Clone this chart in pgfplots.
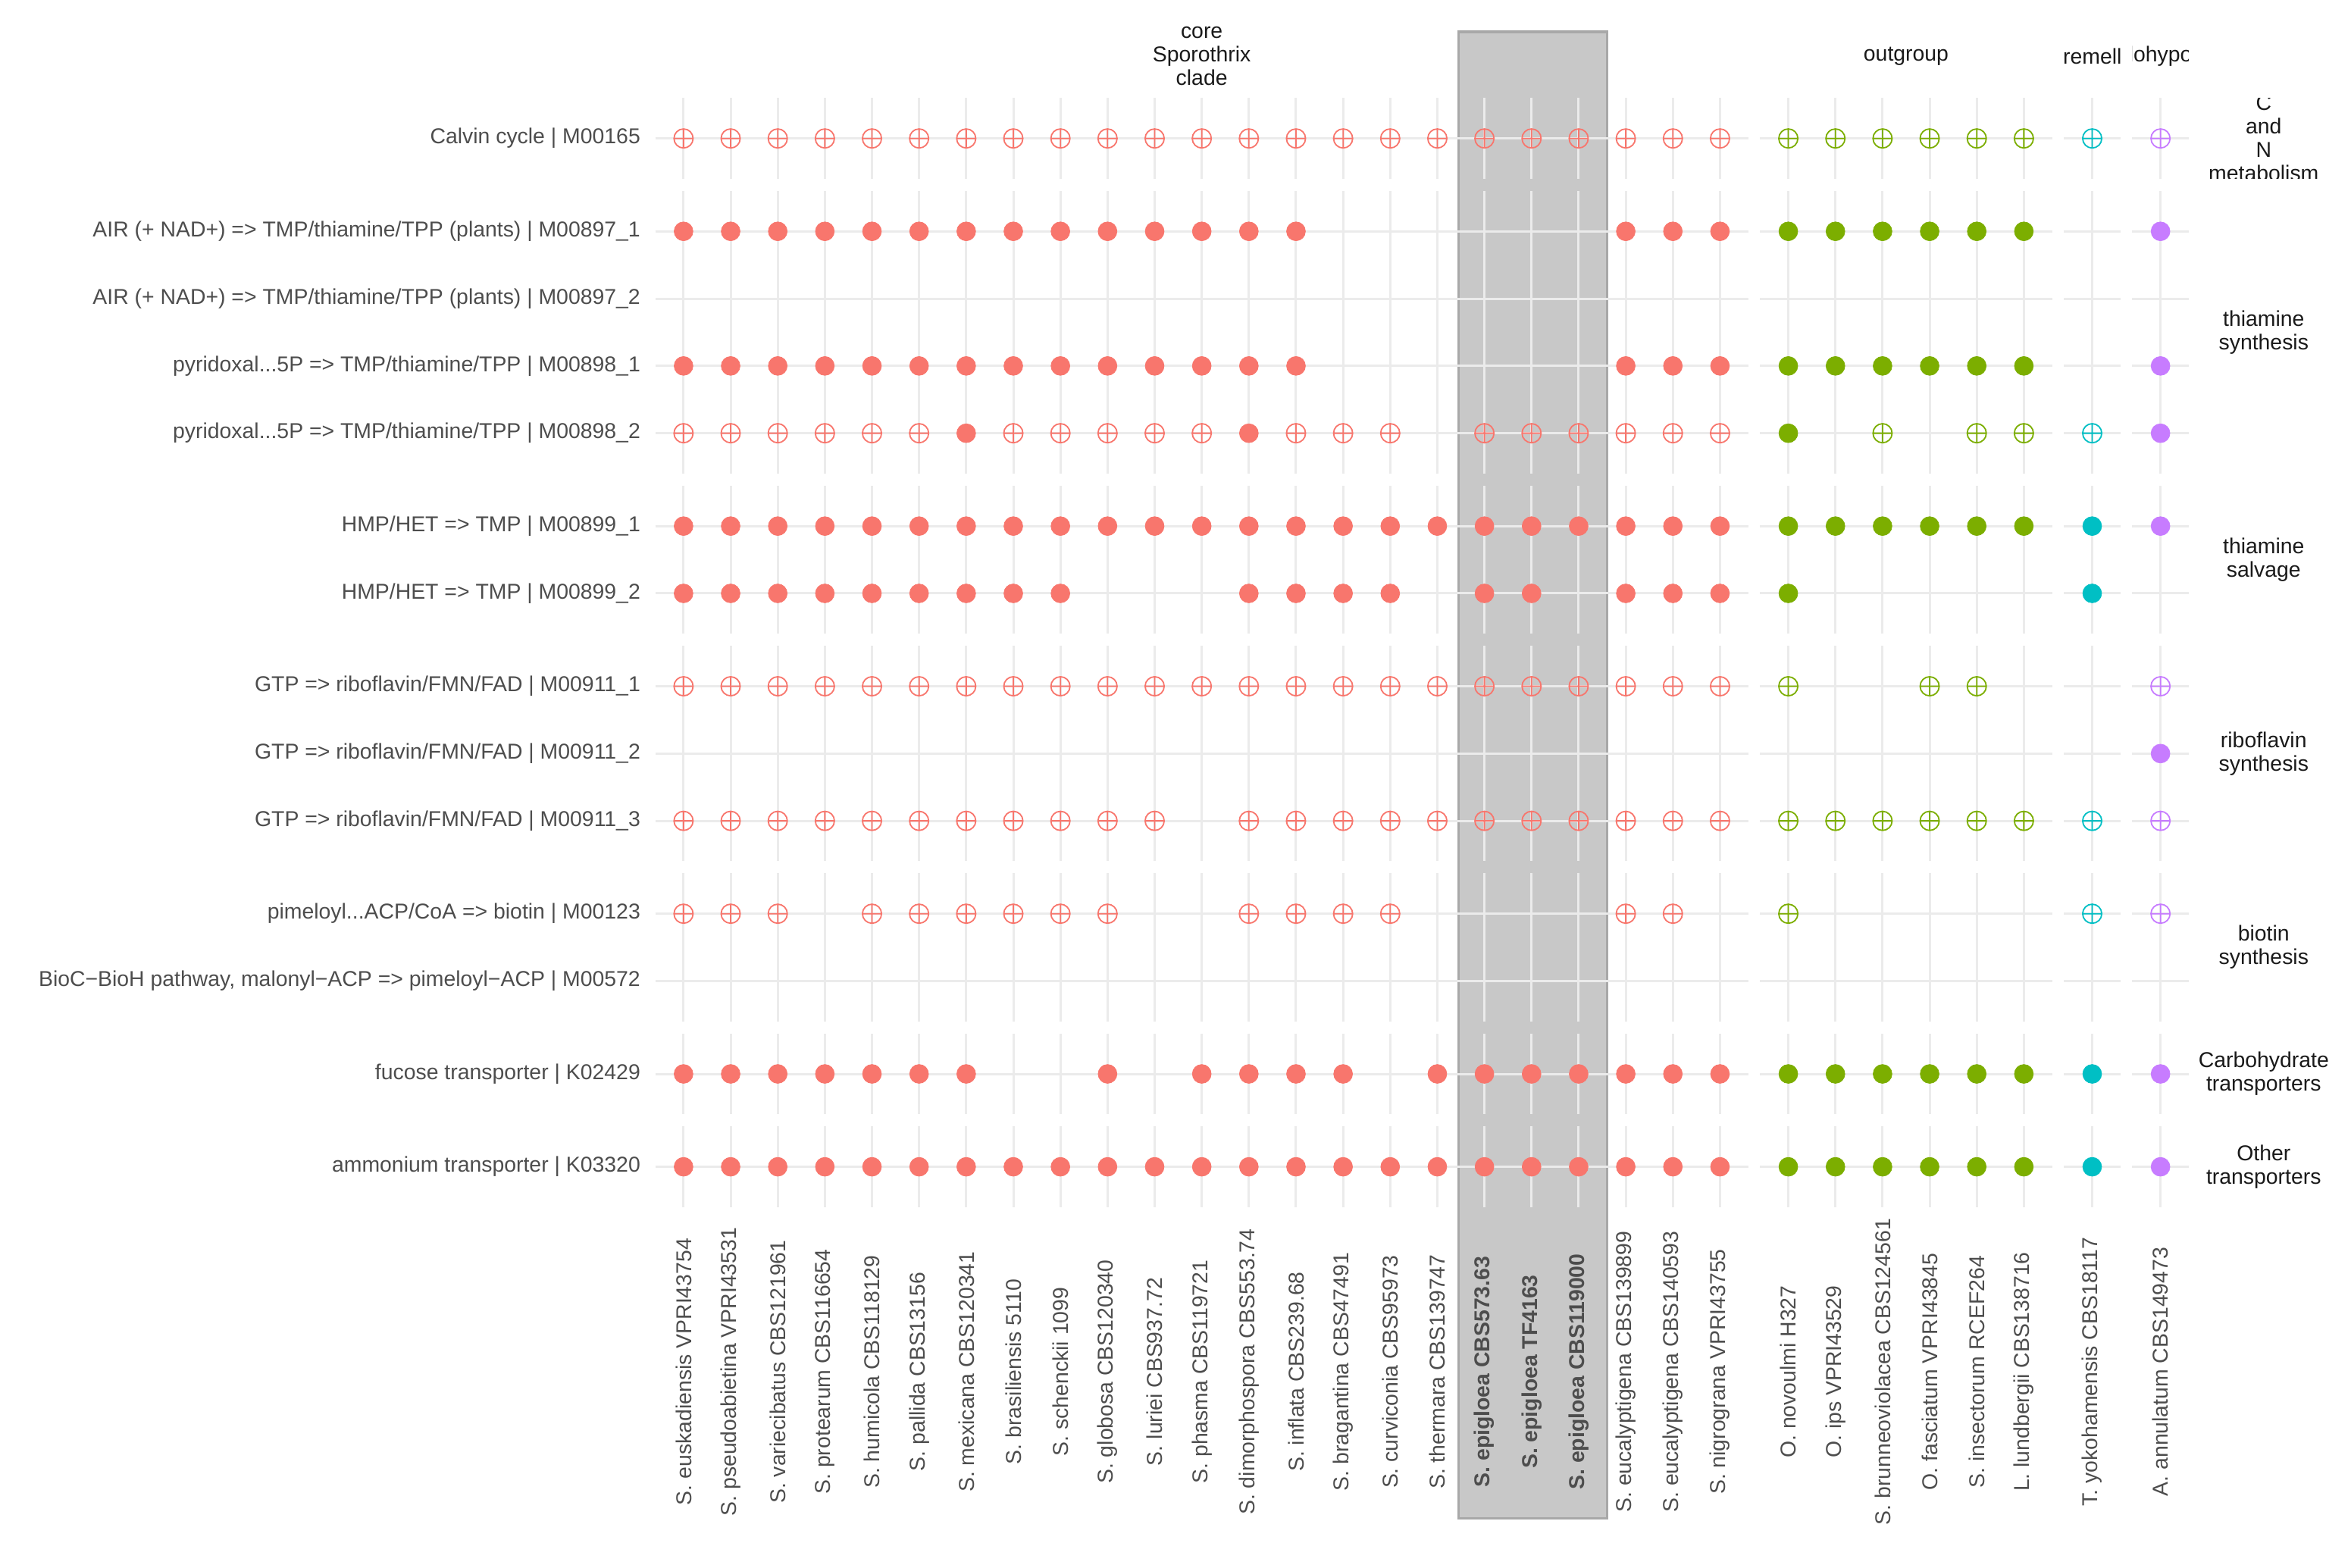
\documentclass[border=0pt]{standalone}
\usepackage{fontspec}
\setmainfont{Liberation Sans}
\usepackage{pgfplots}
\pgfplotsset{compat=1.18}
\usetikzlibrary{calc}
\definecolor{cS}{HTML}{F8766D}
\definecolor{cO}{HTML}{7CAE00}
\definecolor{cT}{HTML}{00BFC4}
\definecolor{cA}{HTML}{C77CFF}
\definecolor{gridc}{HTML}{EBEBEB}
\definecolor{rectfill}{HTML}{C8C8C8}
\definecolor{rectline}{HTML}{A8A8A8}
\definecolor{ticktext}{HTML}{4D4D4D}
\definecolor{striptext}{HTML}{1A1A1A}
\newcommand\ddd{...}

\newcommand\panel[6]{%
  \foreach \c in {#3}{\draw[gridc, line width=0.75pt] (axis cs:\c,#4) -- (axis cs:\c,#5);}%
  \foreach \r in {#6}{\draw[gridc, line width=0.75pt] (axis cs:#1,\r) -- (axis cs:#2,\r);}%
}
\newcommand\rowpanel[3]{%
  \panel{0.4}{23.6}{1,2,...,23}{#1}{#2}{#3}%
  \panel{23.85}{30.05}{24.45,25.45,26.45,27.45,28.45,29.45}{#1}{#2}{#3}%
  \panel{30.3}{31.5}{30.9}{#1}{#2}{#3}%
  \panel{31.75}{32.95}{32.35}{#1}{#2}{#3}%
}
\tikzset{strip/.style={font=\fontsize{7.1}{7.75}\selectfont, align=center, text=striptext, inner sep=0pt}}
\pgfplotsset{
  full/.style={only marks, mark=*, mark size=3.1pt, color=#1, mark options={draw=#1, fill=#1, line width=0.2pt}},
  part/.style={only marks, mark=oplus, mark size=3.15pt, color=#1, mark options={draw=#1, line width=0.45pt}},
}

\begin{document}
\begin{tikzpicture}
\begin{axis}[
  scale only axis, width=505.83pt, height=365.86pt,
  xmin=0.4, xmax=32.95, ymin=0.4, ymax=16.88, y dir=reverse,
  clip=false, axis on top,
  axis line style={draw=none}, major tick length=0pt,
  tick label style={font=\fontsize{7.1}{8}\selectfont, text=ticktext},
  xtick={1,2,3,4,5,6,7,8,9,10,11,12,13,14,15,16,17,18,19,20,21,22,23,24.45,25.45,26.45,27.45,28.45,29.45,30.9,32.35},
  xticklabels={S. euskadiensis VPRI43754, S. pseudoabietina VPRI43531, S. variecibatus CBS121961, S. protearum CBS116654, S. humicola CBS118129, S. pallida CBS13156, S. mexicana CBS120341, S. brasiliensis 5110, S. schenckii 1099, S. globosa CBS120340, S. luriei CBS937.72, S. phasma CBS119721, S. dimorphospora CBS553.74, S. inflata CBS239.68, S. bragantina CBS47491, S. curviconia CBS95973, S. thermara CBS139747, {\bfseries S. epigloea CBS573.63}, {\bfseries S. epigloea TF4163}, {\bfseries S. epigloea CBS119000}, S. eucalyptigena CBS139899, S. eucalyptigena CBS140593, S. nigrograna VPRI43755, O. novoulmi H327, O. ips VPRI43529, S. brunneoviolacea CBS124561, O. fasciatum VPRI43845, S. insectorum RCEF264, L. lundbergii CBS138716, T. yokohamensis CBS18117, A. annulatum CBS149473},
  xticklabel style={yshift=-54.3pt, rotate=90, anchor=center},
  ytick={1,2.38,3.38,4.38,5.38,6.76,7.76,9.14,10.14,11.14,12.52,13.52,14.9,16.28},
  yticklabels={Calvin cycle | M00165, {AIR (+ NAD+) => TMP/thiamine/TPP (plants) | M00897\_1}, {AIR (+ NAD+) => TMP/thiamine/TPP (plants) | M00897\_2}, {pyridoxal\ddd 5P => TMP/thiamine/TPP | M00898\_1}, {pyridoxal\ddd 5P => TMP/thiamine/TPP | M00898\_2}, HMP/HET => TMP | M00899\_1, HMP/HET => TMP | M00899\_2, GTP => riboflavin/FMN/FAD | M00911\_1, GTP => riboflavin/FMN/FAD | M00911\_2, GTP => riboflavin/FMN/FAD | M00911\_3, {pimeloyl\ddd ACP/CoA => biotin | M00123}, {BioC−BioH pathway, malonyl−ACP => pimeloyl−ACP | M00572}, fucose transporter | K02429, ammonium transporter | K03320},
  yticklabel style={anchor=east, xshift=-1.4pt},
]
\coordinate (TL) at (axis cs:0.4,0.4);
% highlight band and panel grids
\pgfplotsextra{
  \fill[rectfill, draw=rectline, line width=0.8pt] (axis cs:17.456,-0.584) rectangle (axis cs:20.606,21.5);
  \rowpanel{0.4}{1.6}{1}
  \rowpanel{1.78}{5.98}{2.38,3.38,4.38,5.38}
  \rowpanel{6.16}{8.36}{6.76,7.76}
  \rowpanel{8.54}{11.74}{9.14,10.14,11.14}
  \rowpanel{11.92}{14.12}{12.52,13.52}
  \rowpanel{14.30}{15.50}{14.9}
  \rowpanel{15.68}{16.88}{16.28}
}
% core Sporothrix clade: complete
\addplot[full=cS] coordinates {
(1,2.38)(2,2.38)(3,2.38)(4,2.38)(5,2.38)(6,2.38)(7,2.38)(8,2.38)(9,2.38)(10,2.38)(11,2.38)(12,2.38)(13,2.38)(14,2.38)(21,2.38)(22,2.38)(23,2.38)
(1,4.38)(2,4.38)(3,4.38)(4,4.38)(5,4.38)(6,4.38)(7,4.38)(8,4.38)(9,4.38)(10,4.38)(11,4.38)(12,4.38)(13,4.38)(14,4.38)(21,4.38)(22,4.38)(23,4.38)
(7,5.38)(13,5.38)
(1,6.76)(2,6.76)(3,6.76)(4,6.76)(5,6.76)(6,6.76)(7,6.76)(8,6.76)(9,6.76)(10,6.76)(11,6.76)(12,6.76)(13,6.76)(14,6.76)(15,6.76)(16,6.76)(17,6.76)(18,6.76)(19,6.76)(20,6.76)(21,6.76)(22,6.76)(23,6.76)
(1,7.76)(2,7.76)(3,7.76)(4,7.76)(5,7.76)(6,7.76)(7,7.76)(8,7.76)(9,7.76)(13,7.76)(14,7.76)(15,7.76)(16,7.76)(18,7.76)(19,7.76)(21,7.76)(22,7.76)(23,7.76)
(1,14.9)(2,14.9)(3,14.9)(4,14.9)(5,14.9)(6,14.9)(7,14.9)(10,14.9)(12,14.9)(13,14.9)(14,14.9)(15,14.9)(17,14.9)(18,14.9)(19,14.9)(20,14.9)(21,14.9)(22,14.9)(23,14.9)
(1,16.28)(2,16.28)(3,16.28)(4,16.28)(5,16.28)(6,16.28)(7,16.28)(8,16.28)(9,16.28)(10,16.28)(11,16.28)(12,16.28)(13,16.28)(14,16.28)(15,16.28)(16,16.28)(17,16.28)(18,16.28)(19,16.28)(20,16.28)(21,16.28)(22,16.28)(23,16.28)
};
% core: partial
\addplot[part=cS] coordinates {
(1,1)(2,1)(3,1)(4,1)(5,1)(6,1)(7,1)(8,1)(9,1)(10,1)(11,1)(12,1)(13,1)(14,1)(15,1)(16,1)(17,1)(18,1)(19,1)(20,1)(21,1)(22,1)(23,1)
(1,5.38)(2,5.38)(3,5.38)(4,5.38)(5,5.38)(6,5.38)(8,5.38)(9,5.38)(10,5.38)(11,5.38)(12,5.38)(14,5.38)(15,5.38)(16,5.38)(18,5.38)(19,5.38)(20,5.38)(21,5.38)(22,5.38)(23,5.38)
(1,9.14)(2,9.14)(3,9.14)(4,9.14)(5,9.14)(6,9.14)(7,9.14)(8,9.14)(9,9.14)(10,9.14)(11,9.14)(12,9.14)(13,9.14)(14,9.14)(15,9.14)(16,9.14)(17,9.14)(18,9.14)(19,9.14)(20,9.14)(21,9.14)(22,9.14)(23,9.14)
(1,11.14)(2,11.14)(3,11.14)(4,11.14)(5,11.14)(6,11.14)(7,11.14)(8,11.14)(9,11.14)(10,11.14)(11,11.14)(13,11.14)(14,11.14)(15,11.14)(16,11.14)(17,11.14)(18,11.14)(19,11.14)(20,11.14)(21,11.14)(22,11.14)(23,11.14)
(1,12.52)(2,12.52)(3,12.52)(5,12.52)(6,12.52)(7,12.52)(8,12.52)(9,12.52)(10,12.52)(13,12.52)(14,12.52)(15,12.52)(16,12.52)(21,12.52)(22,12.52)
};
% outgroup: complete
\addplot[full=cO] coordinates {
(24.45,2.38)(25.45,2.38)(26.45,2.38)(27.45,2.38)(28.45,2.38)(29.45,2.38)
(24.45,4.38)(25.45,4.38)(26.45,4.38)(27.45,4.38)(28.45,4.38)(29.45,4.38)
(24.45,5.38)
(24.45,6.76)(25.45,6.76)(26.45,6.76)(27.45,6.76)(28.45,6.76)(29.45,6.76)
(24.45,7.76)
(24.45,14.9)(25.45,14.9)(26.45,14.9)(27.45,14.9)(28.45,14.9)(29.45,14.9)
(24.45,16.28)(25.45,16.28)(26.45,16.28)(27.45,16.28)(28.45,16.28)(29.45,16.28)
};
% outgroup: partial
\addplot[part=cO] coordinates {
(24.45,1)(25.45,1)(26.45,1)(27.45,1)(28.45,1)(29.45,1)
(26.45,5.38)(28.45,5.38)(29.45,5.38)
(24.45,9.14)(27.45,9.14)(28.45,9.14)
(24.45,11.14)(25.45,11.14)(26.45,11.14)(27.45,11.14)(28.45,11.14)(29.45,11.14)
(24.45,12.52)
};
% T. yokohamensis
\addplot[full=cT] coordinates {
(30.9,6.76)(30.9,7.76)(30.9,14.9)(30.9,16.28)
};
\addplot[part=cT] coordinates {
(30.9,1)(30.9,5.38)(30.9,11.14)(30.9,12.52)
};
% A. annulatum
\addplot[full=cA] coordinates {
(32.35,2.38)(32.35,4.38)(32.35,5.38)(32.35,6.76)(32.35,10.14)(32.35,14.9)(32.35,16.28)
};
\addplot[part=cA] coordinates {
(32.35,1)(32.35,9.14)(32.35,11.14)(32.35,12.52)
};
% strips
\pgfplotsextra{
  \node[strip] at (axis cs:12,-0.224) {core\\Sporothrix\\clade};
  \node[strip] at (axis cs:26.95,-0.224) {outgroup};
  \begin{scope}
    \clip (axis cs:30.3,-1.3) rectangle (axis cs:31.5,0.3);
    \node[strip] at (axis cs:30.9,-0.224) {Tremella};
  \end{scope}
  \begin{scope}
    \clip (axis cs:31.75,-1.3) rectangle (axis cs:32.95,0.3);
    \node[strip] at (axis cs:32.35,-0.224) {Annulohypoxylon};
  \end{scope}
  \begin{scope}
    \clip (axis cs:33.2,0.4) rectangle (axis cs:35.9,1.6);
    \node[strip] at (axis cs:34.54,1) {C\\and\\N\\metabolism};
  \end{scope}
  \node[strip] at (axis cs:34.54,3.88) {thiamine\\synthesis};
  \node[strip] at (axis cs:34.54,7.26) {thiamine\\salvage};
  \node[strip] at (axis cs:34.54,10.14) {riboflavin\\synthesis};
  \node[strip] at (axis cs:34.54,13.02) {biotin\\synthesis};
  \node[strip] at (axis cs:34.54,14.9) {Carbohydrate\\transporters};
  \node[strip] at (axis cs:34.54,16.28) {Other\\transporters};
}
\end{axis}
\pgfresetboundingbox
\path ([shift={(-216.15pt,32.35pt)}]TL) rectangle ++(775.5pt,-517pt);
\end{tikzpicture}
\end{document}
